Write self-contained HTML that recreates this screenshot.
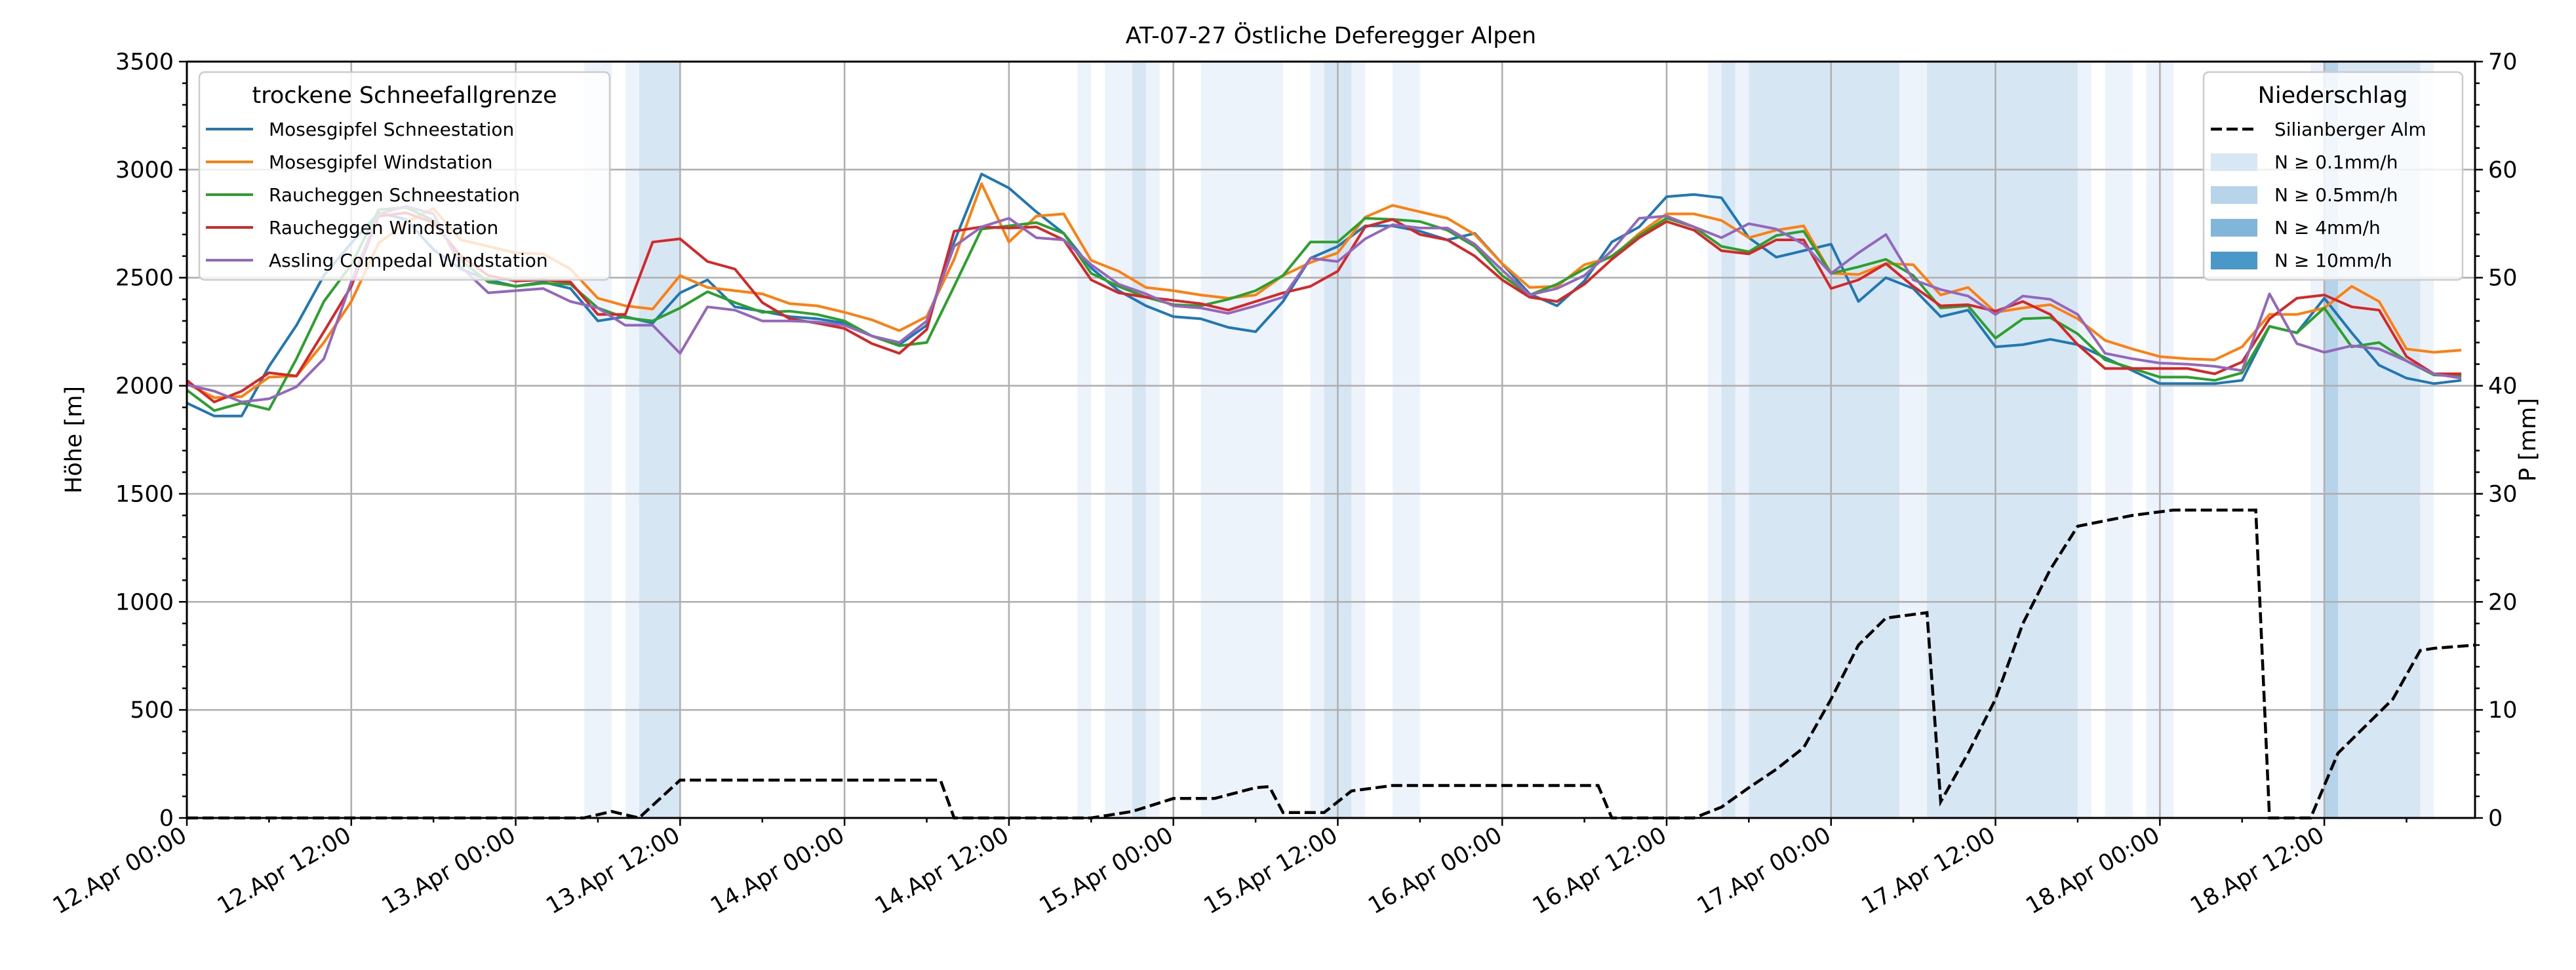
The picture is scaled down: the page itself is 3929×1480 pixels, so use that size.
<!DOCTYPE html>
<html><head><meta charset="utf-8"><style>
html,body{margin:0;padding:0;background:#fff;}
svg{display:block;font-family:"DejaVu Sans","Liberation Sans",sans-serif;}
</style></head><body>
<svg id="chart" width="3929" height="1480" viewBox="0 0 3929 1480" xmlns="http://www.w3.org/2000/svg"></svg>
<script>
const hours = [];
for (let h = 0; h <= 166; h += 2) hours.push(h);
const mosesSchnee = [1920,1860,1860,2090,2280,2510,2660,2800,2770,2630,2540,2490,2460,2480,2450,2300,2320,2290,2430,2490,2365,
 2345,2320,2310,2290,2230,2190,2280,2665,2980,2915,2805,2705,2545,2440,2370,2320,2310,2270,2250,2390,2590,2645,
 2740,2740,2715,2675,2705,2565,2425,2370,2485,2665,2735,2875,2885,2870,2685,2595,2625,2655,2390,2500,2450,
 2320,2350,2180,2190,2215,2190,2130,2070,2010,2010,2010,2025,2275,2245,2405,2245,2095,2035,2010,2025];
const mosesWind = [2010,1945,1950,2040,2045,2200,2390,2660,2755,2820,2675,2645,2615,2610,2540,2405,2370,2355,2510,2455,2440,
 2425,2380,2370,2340,2305,2255,2320,2585,2935,2665,2785,2795,2580,2530,2455,2440,2420,2405,2420,2510,2570,2615,
 2780,2835,2805,2775,2700,2565,2455,2460,2560,2595,2705,2795,2795,2765,2685,2720,2740,2520,2515,2565,2560,
 2420,2455,2340,2360,2375,2310,2210,2170,2135,2125,2120,2180,2330,2330,2360,2460,2390,2170,2155,2165];
const rauchSchnee = [1980,1885,1920,1890,2125,2390,2560,2815,2825,2765,2580,2480,2460,2475,2470,2360,2315,2300,2360,2435,2385,
 2340,2345,2330,2300,2230,2185,2200,2460,2725,2740,2755,2705,2520,2460,2410,2375,2370,2400,2440,2510,2665,2665,
 2775,2770,2760,2720,2645,2510,2420,2470,2540,2600,2695,2775,2735,2645,2620,2695,2715,2520,2550,2585,2510,
 2360,2370,2220,2310,2315,2240,2120,2080,2040,2040,2025,2060,2275,2245,2360,2180,2200,2115,2050,2045];
const rauchWind = [2025,1925,1975,2060,2045,2250,2460,2785,2800,2755,2600,2510,2485,2490,2480,2330,2330,2665,2680,2575,2540,
 2385,2310,2290,2265,2195,2150,2260,2715,2735,2730,2735,2675,2490,2430,2410,2395,2380,2350,2390,2430,2460,2530,
 2735,2770,2700,2675,2600,2490,2410,2390,2470,2585,2685,2760,2720,2625,2610,2675,2675,2450,2490,2565,2460,
 2370,2375,2345,2390,2330,2190,2080,2080,2080,2080,2055,2110,2310,2405,2420,2365,2350,2135,2055,2055];
const asslingWind = [2005,1975,1925,1940,1995,2125,2480,2795,2830,2795,2550,2430,2440,2450,2390,2360,2280,2280,2150,2365,2350,
 2300,2300,2295,2280,2230,2200,2300,2645,2735,2775,2685,2675,2560,2470,2425,2370,2360,2335,2370,2410,2590,2575,
 2680,2745,2730,2730,2655,2535,2420,2450,2510,2625,2775,2785,2735,2685,2750,2725,2655,2520,2615,2700,2490,
 2445,2415,2330,2415,2400,2330,2150,2125,2105,2100,2090,2070,2425,2195,2155,2185,2170,2115,2055,2035];
const precipHours = [0,29,31,33,36,55,56,66,69,72,75,78,79,80,83,85,88,103,104,110,112,114,116,118,120,122,124,127,128,130,132,134,136,138,140,142,145,151,152,155,157,159,161,163,164,167];
const precipValues = [0,0,0.6,0,3.5,3.5,0,0,0.6,1.8,1.8,2.8,2.9,0.5,0.5,2.5,3.0,3.0,0,0,1,2.8,4.5,6.5,11,16,18.5,19,1.5,6,11,18,23,27,27.5,28,28.5,28.5,0,0,6,8.5,11,15.5,15.7,16];
const bandStart = [29,32,33,65,67,69,70,74,82,83,85,88,111,112,113,114,125,127,138,140,143,155,156,157,163];
const bandEnd   = [31,33,36,66,69,70,71,80,83,85,86,90,112,113,114,125,127,138,139,142,145,156,157,163,164];
const bandLevel = [1,1,2,1,1,2,1,1,1,2,1,1,1,2,1,2,1,2,1,1,1,1,3,2,1];
const xTickLabels = ["12.Apr 00:00","12.Apr 12:00","13.Apr 00:00","13.Apr 12:00","14.Apr 00:00","14.Apr 12:00","15.Apr 00:00","15.Apr 12:00","16.Apr 00:00","16.Apr 12:00","17.Apr 00:00","17.Apr 12:00","18.Apr 00:00","18.Apr 12:00"];
const yTicksLeft = [0,500,1000,1500,2000,2500,3000,3500];
const yTicksRight = [0,10,20,30,40,50,60,70];

const NS = "http://www.w3.org/2000/svg";
const svg = document.getElementById('chart');
const L = 285, R = 3775, T = 94, B = 1248;
const X0 = 0, X1 = 167;
const xs = h => L + (h - X0) / (X1 - X0) * (R - L);
const ysL = v => B - v / 3500 * (B - T);
const ysR = v => B - v / 70 * (B - T);
function mk(tag, attrs, parent) {
  const e = document.createElementNS(NS, tag);
  for (const k in attrs) e.setAttribute(k, attrs[k]);
  (parent || svg).appendChild(e);
  return e;
}
function txt(s, attrs, parent) { const e = mk('text', attrs, parent); e.textContent = s; return e; }

const bandColors = {1:'#edf3fb', 2:'#d6e6f3', 3:'#b5d3e9'};
const gB = mk('g', {});


for (let i = 0; i < bandStart.length; i++) {
  const r = mk('rect', {x: xs(bandStart[i]), y: T, width: xs(bandEnd[i]) - xs(bandStart[i]), height: B - T, fill: bandColors[bandLevel[i]]}, gB);
  
  
}
const gG = mk('g', {stroke: '#b0b0b0', 'stroke-width': 2.6});


xTickLabels.forEach((s, i) => mk('line', {x1: xs(i*12), x2: xs(i*12), y1: T, y2: B}, gG));
yTicksLeft.forEach(v => mk('line', {x1: L, x2: R, y1: ysL(v), y2: ysL(v)}, gG));

const series = [
  ['Mosesgipfel Schneestation', mosesSchnee, '#1f77b4', 'mosesgipfel-schneestation-line'],
  ['Mosesgipfel Windstation', mosesWind, '#ff7f0e', 'mosesgipfel-windstation-line'],
  ['Raucheggen Schneestation', rauchSchnee, '#2ca02c', 'raucheggen-schneestation-line'],
  ['Raucheggen Windstation', rauchWind, '#d62728', 'raucheggen-windstation-line'],
  ['Assling Compedal Windstation', asslingWind, '#9467bd', 'assling-compedal-windstation-line']
];
series.forEach(s => {
  const d = s[1].map((v, i) => (i ? 'L' : 'M') + xs(hours[i]).toFixed(1) + ',' + ysL(v).toFixed(1)).join(' ');
  const p = mk('path', {d: d, fill: 'none', stroke: s[2], 'stroke-width': 4, 'stroke-linejoin': 'round'});
  
  
});
{
  const d = precipValues.map((v, i) => (i ? 'L' : 'M') + xs(precipHours[i]).toFixed(1) + ',' + ysR(v).toFixed(1)).join(' ');
  const p = mk('path', {d: d, fill: 'none', stroke: '#000', 'stroke-width': 4.5, 'stroke-dasharray': '17,7'});
  
  
}

const frame = mk('rect', {x: L, y: T, width: R - L, height: B - T, fill: 'none', stroke: '#000', 'stroke-width': 3});



const gT = mk('g', {stroke: '#000', 'stroke-width': 2.5});


for (let v = 0; v <= 3500; v += 100) { const len = v % 500 === 0 ? 12 : 7; mk('line', {x1: L - len, x2: L, y1: ysL(v), y2: ysL(v)}, gT); }
for (let v = 0; v <= 70; v += 2) { const len = v % 10 === 0 ? 12 : 7; mk('line', {x1: R, x2: R + len, y1: ysR(v), y2: ysR(v)}, gT); }
for (let h = 0; h <= 167; h += 6) { const len = h % 12 === 0 ? 12 : 7; mk('line', {x1: xs(h), x2: xs(h), y1: B, y2: B + len}, gT); }

const gL = mk('g', {'font-size': 35, fill: '#000'});


yTicksLeft.forEach(v => { const t = txt(String(v), {x: L - 20, y: ysL(v) + 12, 'text-anchor': 'end'}, gL);   });
yTicksRight.forEach(v => { const t = txt(String(v), {x: R + 20, y: ysR(v) + 12, 'text-anchor': 'start'}, gL);   });
xTickLabels.forEach((s, i) => {
  const t = txt(s, {'text-anchor': 'end', transform: 'translate(' + (xs(i*12) - 10) + ',' + (B + 12) + ') rotate(-30)', dy: '0.7em'}, gL);
  
  
});

const title = txt('AT-07-27 Östliche Deferegger Alpen', {x: (L + R) / 2, y: 66, 'text-anchor': 'middle', 'font-size': 35});


const yl = txt('Höhe [m]', {transform: 'translate(124,' + (T + B) / 2 + ') rotate(-90)', 'text-anchor': 'middle', 'font-size': 35});


const yr = txt('P [mm]', {transform: 'translate(3867,' + (T + B) / 2 + ') rotate(-90)', 'text-anchor': 'middle', 'font-size': 35});



const lg1 = mk('g', {});


mk('rect', {x: 304, y: 110, width: 626, height: 317, rx: 8, fill: 'rgba(255,255,255,0.8)', stroke: '#cccccc', 'stroke-width': 2.5}, lg1);
txt('trockene Schneefallgrenze', {x: 617, y: 157, 'text-anchor': 'middle', 'font-size': 35}, lg1);
series.forEach((s, i) => {
  const cy = 197 + i * 50;
  const e = mk('g', {}, lg1);
  
  
  mk('line', {x1: 314, x2: 386, y1: cy, y2: cy, stroke: s[2], 'stroke-width': 4}, e);
  txt(s[0], {x: 410, y: cy + 10, 'font-size': 28}, e);
});
const lg2 = mk('g', {});


mk('rect', {x: 3361, y: 110, width: 395, height: 317, rx: 8, fill: 'rgba(255,255,255,0.8)', stroke: '#cccccc', 'stroke-width': 2.5}, lg2);
txt('Niederschlag', {x: 3558, y: 157, 'text-anchor': 'middle', 'font-size': 35}, lg2);
{
  const e = mk('g', {}, lg2);
  
  
  mk('line', {x1: 3372, x2: 3443, y1: 197, y2: 197, stroke: '#000', 'stroke-width': 4.5, 'stroke-dasharray': '17,7'}, e);
  txt('Silianberger Alm', {x: 3469, y: 207, 'font-size': 28}, e);
}
const patchC = ['#d8e7f4', '#b7d4ea', '#7fb6d9', '#4a98c9'];
const patchT = ['N ≥ 0.1mm/h', 'N ≥ 0.5mm/h', 'N ≥ 4mm/h', 'N ≥ 10mm/h'];
patchC.forEach((c, i) => {
  const cy = 247 + i * 50;
  const e = mk('g', {}, lg2);
  
  
  mk('rect', {x: 3372, y: cy - 13, width: 71, height: 27, fill: c}, e);
  txt(patchT[i], {x: 3469, y: cy + 10, 'font-size': 28}, e);
});
</script>
</body></html>
